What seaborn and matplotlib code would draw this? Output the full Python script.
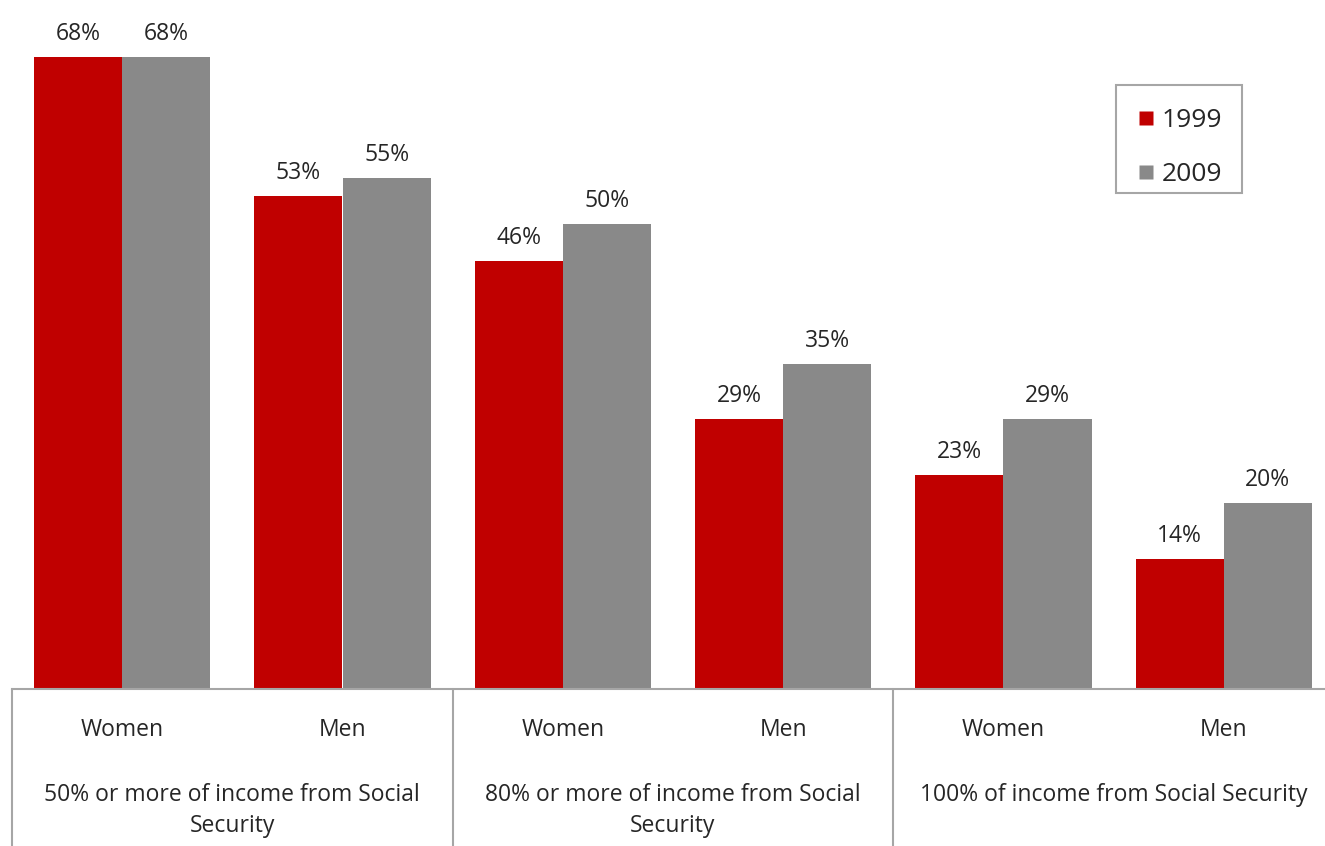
import matplotlib
matplotlib.use("Agg")
import matplotlib.pyplot as plt
from matplotlib.lines import Line2D
from matplotlib.patches import Rectangle
import matplotlib.transforms as mtransforms
import seaborn as sns
import pandas as pd

# Share of beneficiaries relying on Social Security, by income threshold and sex
groups = [
    "50% or more of income from Social\nSecurity",
    "80% or more of income from Social\nSecurity",
    "100% of income from Social Security",
]
sexes = ["Women", "Men"]
years = ["1999", "2009"]
values_1999 = [68, 53, 46, 29, 23, 14]
values_2009 = [68, 55, 50, 35, 29, 20]

colors = {"1999": "#C00000", "2009": "#898989"}

slots = [f"{g}|{s}" for g in range(len(groups)) for s in sexes]
df = pd.DataFrame({
    "slot": slots * 2,
    "year": ["1999"] * len(slots) + ["2009"] * len(slots),
    "share": values_1999 + values_2009,
})

sns.set_theme(style="white")
plt.rcParams["font.family"] = ["Open Sans", "DejaVu Sans"]

W, H = 1325, 846
fig = plt.figure(figsize=(W / 100, H / 100), dpi=100)
ax_left, ax_bottom = 12 / W, (H - 689) / H
ax_width = (1334 - 12) / W
ax = fig.add_axes([ax_left, ax_bottom, ax_width, 1 - ax_bottom])

sns.barplot(data=df, x="slot", y="share", hue="year", order=slots,
            hue_order=years, palette=colors, width=0.8, ax=ax,
            legend=False, saturation=1, edgecolor="none")

ax.set_xlim(-0.5, len(slots) - 0.5)
ax.set_ylim(0, 74.1)
ax.set_xlabel("")
ax.set_ylabel("")
ax.set_yticks([])
ax.set_xticks([])
for side in ["left", "right", "top"]:
    ax.spines[side].set_visible(False)
line_color = "#A6A6A6"
ax.spines["bottom"].set_color(line_color)
ax.spines["bottom"].set_linewidth(1.5)

text_color = "#262626"
fs = 16.5

# value labels above each bar
for container in ax.containers:
    for bar in container:
        h = bar.get_height()
        ax.annotate(f"{h:.0f}%", (bar.get_x() + bar.get_width() / 2, h),
                    xytext=(0, 16.5), textcoords="offset points",
                    ha="center", va="center", fontsize=fs, color=text_color)

# category axis: sex labels, group labels and separators
trans = mtransforms.blended_transform_factory(ax.transData, ax.transAxes)
px = 1 / 689
for i, slot in enumerate(slots):
    ax.text(i, -41 * px, slot.split("|")[1], transform=trans,
            ha="center", va="center", fontsize=fs, color=text_color)
for g, label in enumerate(groups):
    for k, line in enumerate(label.split("\n")):
        ax.text(2 * g + 0.5, -(106 + 31 * k) * px, line, transform=trans,
                ha="center", va="center", fontsize=fs, color=text_color)
for xs in [-0.5, 1.5, 3.5]:
    ax.add_line(Line2D([xs, xs], [0, -157 * px], transform=trans,
                       color=line_color, lw=1.5, clip_on=False))

# legend entries, with a plain box drawn around them
handles = [Line2D([], [], marker="s", linestyle="none", markersize=9.5,
                  markerfacecolor=colors[y], markeredgecolor="none")
           for y in years]
leg = ax.legend(handles, years, loc="upper left",
                bbox_to_anchor=(1118 / W, 1 - 87 / H),
                bbox_transform=fig.transFigure, borderaxespad=0,
                fontsize=19, frameon=False,
                handlelength=0.55, handletextpad=0.3, labelspacing=1.1,
                borderpad=0.8)
for t in leg.get_texts():
    t.set_color(text_color)
fig.patches.append(Rectangle((1116 / W, 1 - 193 / H), 126 / W, 108 / H,
                             transform=fig.transFigure, fill=False,
                             edgecolor=line_color, linewidth=1.5))

fig.savefig("out.png", dpi=100)
